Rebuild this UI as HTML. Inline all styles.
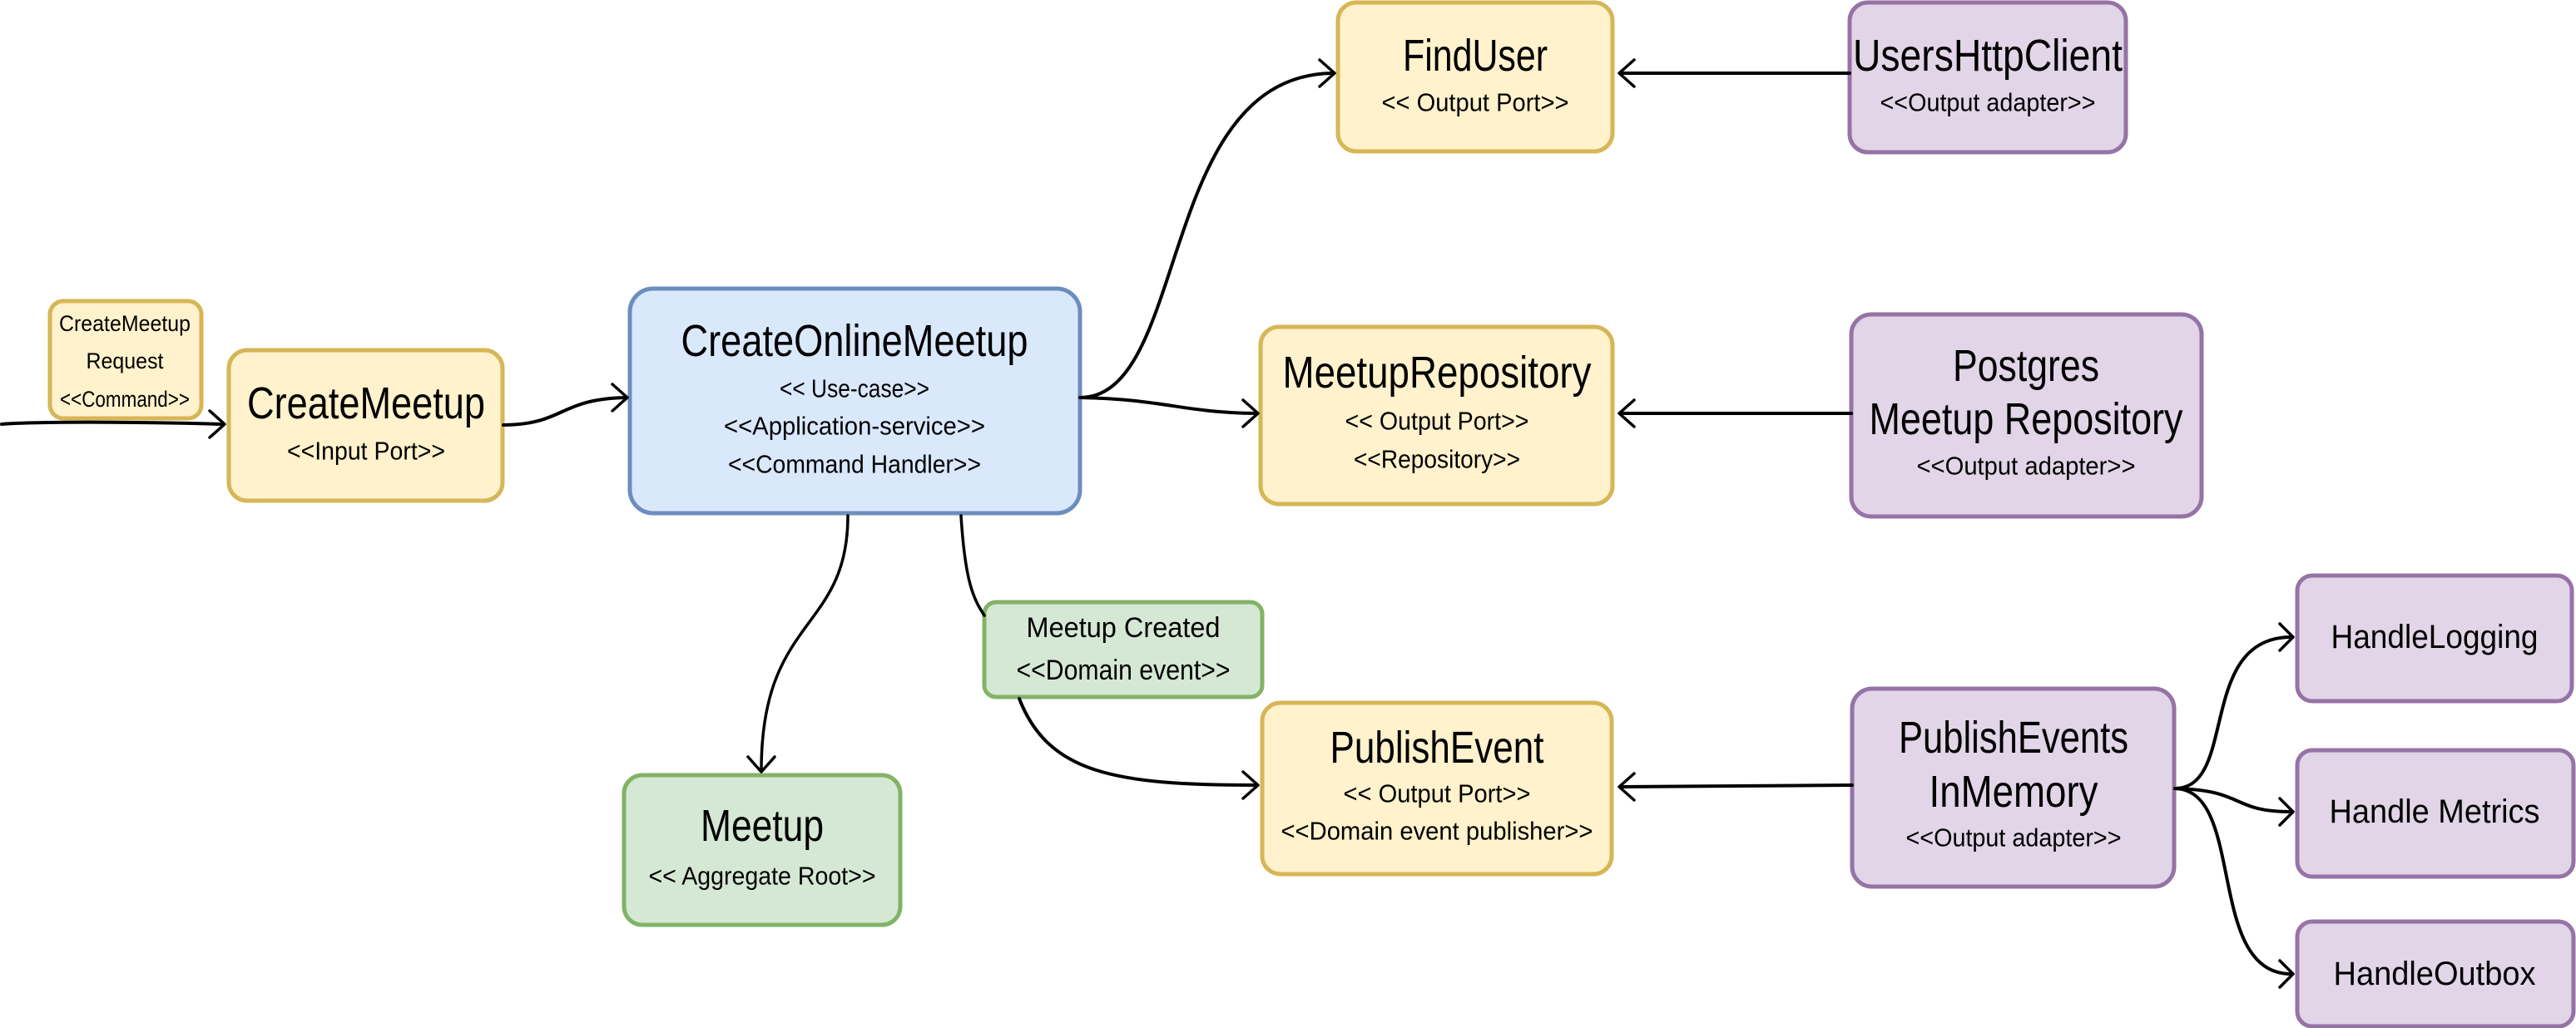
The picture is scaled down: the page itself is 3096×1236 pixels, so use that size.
<!DOCTYPE html>
<html><head><meta charset="utf-8"><style>
html,body{margin:0;padding:0;background:#fff;}
svg{display:block;}
text{font-family:"Liberation Sans",sans-serif;fill:#000;text-anchor:middle;dominant-baseline:central;}
.t{font-size:54px;}
.s{font-size:31px;}
.h{font-size:40px;}
.c{fill:none;stroke:#000;stroke-width:4;stroke-linecap:round;stroke-linejoin:round;}
.a{fill:none;stroke:#000;stroke-width:3.5;stroke-linecap:round;stroke-linejoin:round;}
</style></head><body>
<svg width="3096" height="1236" viewBox="0 0 3096 1236" xmlns="http://www.w3.org/2000/svg">
<g stroke-width="5">
<rect x="60" y="362" width="182" height="141" rx="16" fill="#fff2cc" stroke="#d6b656"/>
<rect x="275" y="421" width="329" height="181" rx="22" fill="#fff2cc" stroke="#d6b656"/>
<rect x="1608" y="3" width="330" height="179" rx="22" fill="#fff2cc" stroke="#d6b656"/>
<rect x="1515" y="393" width="423" height="213" rx="22" fill="#fff2cc" stroke="#d6b656"/>
<rect x="1517" y="845" width="420" height="206" rx="22" fill="#fff2cc" stroke="#d6b656"/>
<rect x="757" y="347" width="541" height="270" rx="28" fill="#dae8fc" stroke="#6c8ebf"/>
<rect x="1183" y="724" width="334" height="114" rx="14" fill="#d5e8d4" stroke="#82b366"/>
<rect x="750" y="932" width="332" height="180" rx="22" fill="#d5e8d4" stroke="#82b366"/>
<rect x="2223" y="3" width="332" height="180" rx="22" fill="#e1d5e7" stroke="#9673a6"/>
<rect x="2225" y="378" width="421" height="243" rx="24" fill="#e1d5e7" stroke="#9673a6"/>
<rect x="2226" y="828" width="387" height="238" rx="24" fill="#e1d5e7" stroke="#9673a6"/>
<rect x="2761" y="692" width="330" height="151" rx="18" fill="#e1d5e7" stroke="#9673a6"/>
<rect x="2761" y="902" width="332" height="152" rx="18" fill="#e1d5e7" stroke="#9673a6"/>
<rect x="2761" y="1108" width="332" height="126" rx="18" fill="#e1d5e7" stroke="#9673a6"/>
</g>
<path class="c" d="M2 510 C60 506 200 508 268 510"/>
<polyline class="a" points="252,494 270,510 252,526"/>
<path class="c" d="M605 511 C680 510 670 480 752 478"/>
<polyline class="a" points="736,462 754,478 736,494"/>
<path class="c" d="M1298 478 C1430 478 1390 90 1602 88"/>
<polyline class="a" points="1586,72 1604,88 1586,104"/>
<path class="c" d="M1298 478 C1400 480 1420 496 1510 497"/>
<polyline class="a" points="1494,481 1512,497 1494,513"/>
<path class="a" d="M1019 620 C1019 760 915 740 915 926"/>
<polyline class="a" points="899,910 915,928 931,910"/>
<path class="a" d="M1155 620 C1160 700 1170 720 1183 740"/>
<path class="c" d="M1225 840 C1260 930 1340 944 1510 944"/>
<polyline class="a" points="1494,928 1512,944 1494,960"/>
<path class="c" d="M2223 88 L1948 88"/>
<polyline class="a" points="1964,72 1946,88 1964,104"/>
<path class="c" d="M2225 497 L1948 497"/>
<polyline class="a" points="1964,481 1946,497 1964,513"/>
<path class="c" d="M2226 944 L1948 946"/>
<polyline class="a" points="1964,930 1946,946 1964,962"/>
<path class="c" d="M2614 948 C2690 948 2640 766 2754 766"/>
<polyline class="a" points="2740,750 2756,766 2740,782"/>
<path class="c" d="M2614 948 C2700 950 2680 976 2754 976"/>
<polyline class="a" points="2740,960 2756,976 2740,992"/>
<path class="c" d="M2614 948 C2700 950 2650 1171 2754 1171"/>
<polyline class="a" points="2740,1155 2756,1171 2740,1187"/>
<g>
<text x="150" y="389" font-size="27" textLength="158" lengthAdjust="spacingAndGlyphs">CreateMeetup</text>
<text x="150" y="434" font-size="27" textLength="93" lengthAdjust="spacingAndGlyphs">Request</text>
<text x="150" y="480" font-size="27" textLength="156" lengthAdjust="spacingAndGlyphs">&lt;&lt;Command&gt;&gt;</text>
<text class="t" x="440" y="485" textLength="286" lengthAdjust="spacingAndGlyphs">CreateMeetup</text>
<text class="s" x="440" y="542" textLength="190" lengthAdjust="spacingAndGlyphs">&lt;&lt;Input Port&gt;&gt;</text>
<text class="t" x="1027" y="410" textLength="417" lengthAdjust="spacingAndGlyphs">CreateOnlineMeetup</text>
<text class="s" x="1027" y="467" textLength="180" lengthAdjust="spacingAndGlyphs">&lt;&lt; Use-case&gt;&gt;</text>
<text class="s" x="1027" y="512" textLength="314" lengthAdjust="spacingAndGlyphs">&lt;&lt;Application-service&gt;&gt;</text>
<text class="s" x="1027" y="558" textLength="304" lengthAdjust="spacingAndGlyphs">&lt;&lt;Command Handler&gt;&gt;</text>
<text class="t" x="1773" y="67" textLength="174" lengthAdjust="spacingAndGlyphs">FindUser</text>
<text class="s" x="1773" y="123" textLength="225" lengthAdjust="spacingAndGlyphs">&lt;&lt; Output Port&gt;&gt;</text>
<text class="t" x="2389" y="67" textLength="324" lengthAdjust="spacingAndGlyphs">UsersHttpClient</text>
<text class="s" x="2389" y="123" textLength="259" lengthAdjust="spacingAndGlyphs">&lt;&lt;Output adapter&gt;&gt;</text>
<text class="t" x="1727" y="448" textLength="371" lengthAdjust="spacingAndGlyphs">MeetupRepository</text>
<text class="s" x="1727" y="506" textLength="221" lengthAdjust="spacingAndGlyphs">&lt;&lt; Output Port&gt;&gt;</text>
<text class="s" x="1727" y="552" textLength="200" lengthAdjust="spacingAndGlyphs">&lt;&lt;Repository&gt;&gt;</text>
<text class="t" x="2435" y="440" textLength="176" lengthAdjust="spacingAndGlyphs">Postgres</text>
<text class="t" x="2435" y="504" textLength="377" lengthAdjust="spacingAndGlyphs">Meetup Repository</text>
<text class="s" x="2435" y="560" textLength="263" lengthAdjust="spacingAndGlyphs">&lt;&lt;Output adapter&gt;&gt;</text>
<text x="1350" y="755" font-size="34" textLength="233" lengthAdjust="spacingAndGlyphs">Meetup Created</text>
<text x="1350" y="806" font-size="34" textLength="257" lengthAdjust="spacingAndGlyphs">&lt;&lt;Domain event&gt;&gt;</text>
<text class="t" x="1727" y="899" textLength="257" lengthAdjust="spacingAndGlyphs">PublishEvent</text>
<text class="s" x="1727" y="954" textLength="225" lengthAdjust="spacingAndGlyphs">&lt;&lt; Output Port&gt;&gt;</text>
<text class="s" x="1727" y="999" textLength="375" lengthAdjust="spacingAndGlyphs">&lt;&lt;Domain event publisher&gt;&gt;</text>
<text class="t" x="916" y="993" textLength="148" lengthAdjust="spacingAndGlyphs">Meetup</text>
<text class="s" x="916" y="1053" textLength="273" lengthAdjust="spacingAndGlyphs">&lt;&lt; Aggregate Root&gt;&gt;</text>
<text class="t" x="2420" y="887" textLength="276" lengthAdjust="spacingAndGlyphs">PublishEvents</text>
<text class="t" x="2420" y="952" textLength="203" lengthAdjust="spacingAndGlyphs">InMemory</text>
<text class="s" x="2420" y="1007" textLength="259" lengthAdjust="spacingAndGlyphs">&lt;&lt;Output adapter&gt;&gt;</text>
<text class="h" x="2926" y="766" textLength="249" lengthAdjust="spacingAndGlyphs">HandleLogging</text>
<text class="h" x="2926" y="976" textLength="253" lengthAdjust="spacingAndGlyphs">Handle Metrics</text>
<text class="h" x="2926" y="1171" textLength="243" lengthAdjust="spacingAndGlyphs">HandleOutbox</text>
</g>
</svg>
</body></html>
